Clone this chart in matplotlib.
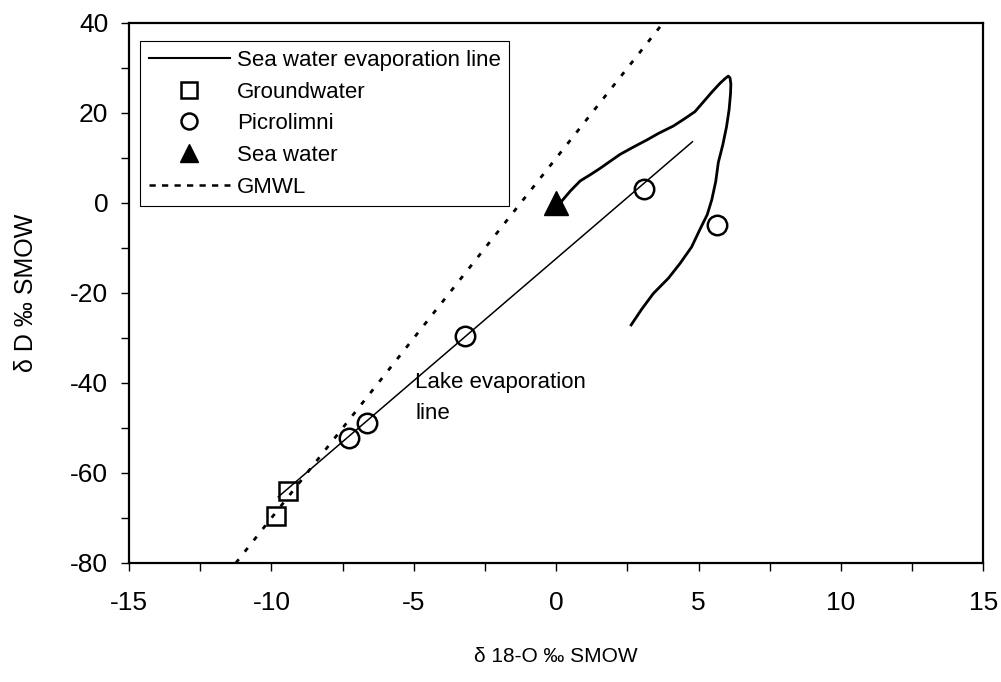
import matplotlib
matplotlib.use("Agg")
import matplotlib.pyplot as plt
from matplotlib.lines import Line2D
from matplotlib.ticker import MultipleLocator

plt.rcParams['font.family'] = ['Liberation Sans', 'DejaVu Sans']
plt.rcParams['axes.unicode_minus'] = False

# Data
groundwater_o18 = [-9.41, -9.84]
groundwater_d = [-63.9, -69.5]

picrolimni_o18 = [-7.26, -6.65, -3.2, 3.09, 5.63]
picrolimni_d = [-52.3, -48.8, -29.6, 3.0, -4.9]

seawater_o18 = [0.0]
seawater_d = [0.0]

# GMWL: dD = 8 d18O + 10
gmwl_o18 = [-11.25, 3.75]
gmwl_d = [-80, 40]

# lake evaporation line
lake_o18 = [-9.76, 4.78]
lake_d = [-65.3, 13.6]

# sea water evaporation line (hand traced)
sea_o18 = [2.63, 3.0, 3.41, 3.94, 4.35, 4.75, 5.05, 5.3, 5.46, 5.6, 5.69, 5.85,
           5.98, 6.07, 6.12, 6.13, 6.1, 6.04, 5.92, 5.75, 5.5, 5.28, 4.87,
           4.5, 4.11, 3.6, 3.18, 2.7, 2.24, 1.9, 1.54, 1.2, 0.84, 0.5, 0.19]
sea_d = [-27.1, -23.6, -20.1, -16.7, -13.4, -9.8, -5.8, -2.6, 0.7, 4.8, 9.0, 13.0,
         17.0, 20.8, 24.4, 26.5, 27.8, 28.2, 27.6, 26.6, 24.9, 23.3, 20.3,
         18.7, 17.1, 15.5, 14.0, 12.4, 10.8, 9.3, 7.7, 6.3, 4.9, 2.7, 0.4]

fig = plt.figure(figsize=(10.01, 6.82), dpi=100)
ax = fig.add_axes([0.1289, 0.1745, 0.8536, 0.7918])

ax.plot(gmwl_o18, gmwl_d, color='black', lw=2, linestyle=(0, (1.7, 3.5)))
ax.plot(lake_o18, lake_d, color='black', lw=1.1)
ax.plot(sea_o18, sea_d, color='black', lw=2, solid_joinstyle='round')

ax.plot(groundwater_o18, groundwater_d, linestyle='none', marker='s', ms=13.5,
        mfc='none', mec='black', mew=1.8)
ax.plot(picrolimni_o18, picrolimni_d, linestyle='none', marker='o', ms=14,
        mfc='none', mec='black', mew=1.8)
ax.plot(seawater_o18, seawater_d, linestyle='none', marker='^', ms=17,
        color='black')

ax.text(-4.95, -43.3, 'Lake evaporation\nline', fontsize=16, ha='left', va='center',
        linespacing=1.6)

ax.set_xlim(-15, 15)
ax.set_ylim(-80, 40)
ax.xaxis.set_major_locator(MultipleLocator(5))
ax.xaxis.set_minor_locator(MultipleLocator(2.5))
ax.yaxis.set_major_locator(MultipleLocator(20))
ax.yaxis.set_minor_locator(MultipleLocator(10))
ax.tick_params(which='both', direction='out', length=6, width=1)
ax.tick_params(axis='x', which='major', labelsize=19, pad=14)
ax.tick_params(axis='y', which='major', labelsize=19, pad=9)
for s in ax.spines.values():
    s.set_linewidth(1.6)

ax.set_xlabel('δ 18-O ‰ SMOW', fontsize=15)
ax.set_ylabel('δ D ‰ SMOW', fontsize=18)
ax.xaxis.set_label_coords(0.5, -0.155)
ax.yaxis.set_label_coords(-0.1065, 0.5)

handles = [
    Line2D([], [], color='black', lw=1.5),
    Line2D([], [], linestyle='none', marker='s', ms=11, mfc='none', mec='black', mew=1.8),
    Line2D([], [], linestyle='none', marker='o', ms=11.5, mfc='none', mec='black', mew=1.8),
    Line2D([], [], linestyle='none', marker='^', ms=12.5, color='black'),
    Line2D([], [], color='black', lw=1.8, linestyle=(0, (2.5, 2.5))),
]
labels = ['Sea water evaporation line', 'Groundwater', 'Picrolimni', 'Sea water', 'GMWL']
leg = ax.legend(handles, labels, loc='upper left', bbox_to_anchor=(0.0129, 0.9667),
                borderaxespad=0, fontsize=16, handlelength=3.65, handletextpad=0.3,
                labelspacing=0.48, borderpad=0.4, fancybox=False, framealpha=1)
leg.get_frame().set_edgecolor('black')
leg.get_frame().set_linewidth(0.8)

fig.savefig('out.png', dpi=100)
